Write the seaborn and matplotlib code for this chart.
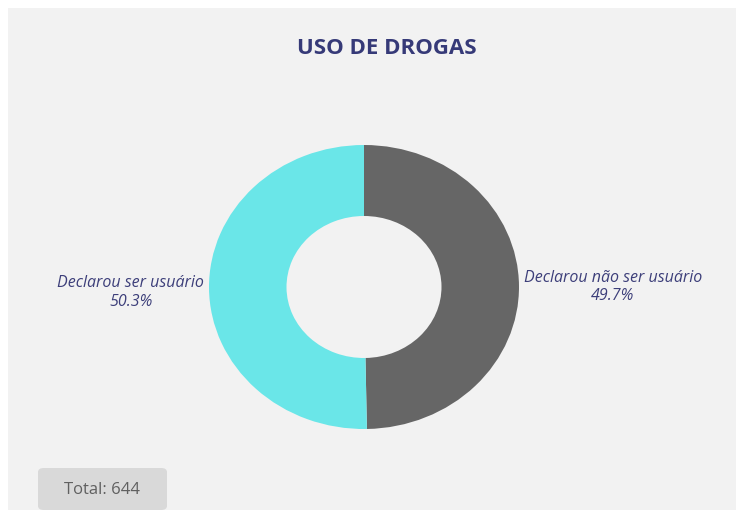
import matplotlib
matplotlib.use("Agg")
import matplotlib.pyplot as plt
import seaborn as sns
from matplotlib.patches import FancyBboxPatch, Rectangle

# Data
categories = ["Declarou não ser usuário", "Declarou ser usuário"]
shares = [49.7, 50.3]
colors = ["#666666", "#6ae6e8"]
total = 644
title = "USO DE DROGAS"

sns.set_style("white")
plt.rcParams["font.family"] = ["Open Sans", "DejaVu Sans"]

fig = plt.figure(figsize=(7.4, 5.13), dpi=100)
fig.patch.set_facecolor("white")

# grey panel behind everything
fig.patches.append(Rectangle((8 / 740, 3 / 513), 728 / 740, 502 / 513,
                             transform=fig.transFigure, facecolor="#f2f2f2",
                             edgecolor="none", zorder=-10))

fig.text(387 / 740, 1 - 48 / 513, title, ha="center", va="center",
         fontsize=16, fontweight="bold", color="#363a78")

# donut
ax = fig.add_axes([(364 - 155) / 740, (513 - 429) / 513, 310 / 740, 284 / 513])
ax.set_facecolor("none")
labels = [f"{c}\n{s:.1f}%" for c, s in zip(categories, shares)]
wedges, texts = ax.pie(shares, colors=colors, startangle=90, counterclock=False,
                       labels=labels, labeldistance=1.03,
                       wedgeprops=dict(width=0.5, edgecolor="none"),
                       textprops=dict(fontsize=11.5, style="italic",
                                      color="#3d3f7a", multialignment="center"))
# nudge the labels to where they sit in the original
texts[0].set_y(texts[0].get_position()[1] - 0.01)
texts[1].set_y(texts[1].get_position()[1] - 0.03)
ax.set_aspect("auto")
ax.set_xlim(-1, 1)
ax.set_ylim(-1, 1)
ax.axis("off")

# total box
box = FancyBboxPatch((38 / 740, 3 / 513), 129 / 740, 42 / 513,
                     boxstyle="round,pad=0,rounding_size=0.008",
                     transform=fig.transFigure, facecolor="#d9d9d9",
                     edgecolor="none", zorder=1)
fig.patches.append(box)
fig.text(102 / 740, 1 - 490 / 513, f"Total: {total}", ha="center", va="center",
         fontsize=12, color="#606060", zorder=2)

fig.savefig("out.png", dpi=100, facecolor=fig.get_facecolor())
